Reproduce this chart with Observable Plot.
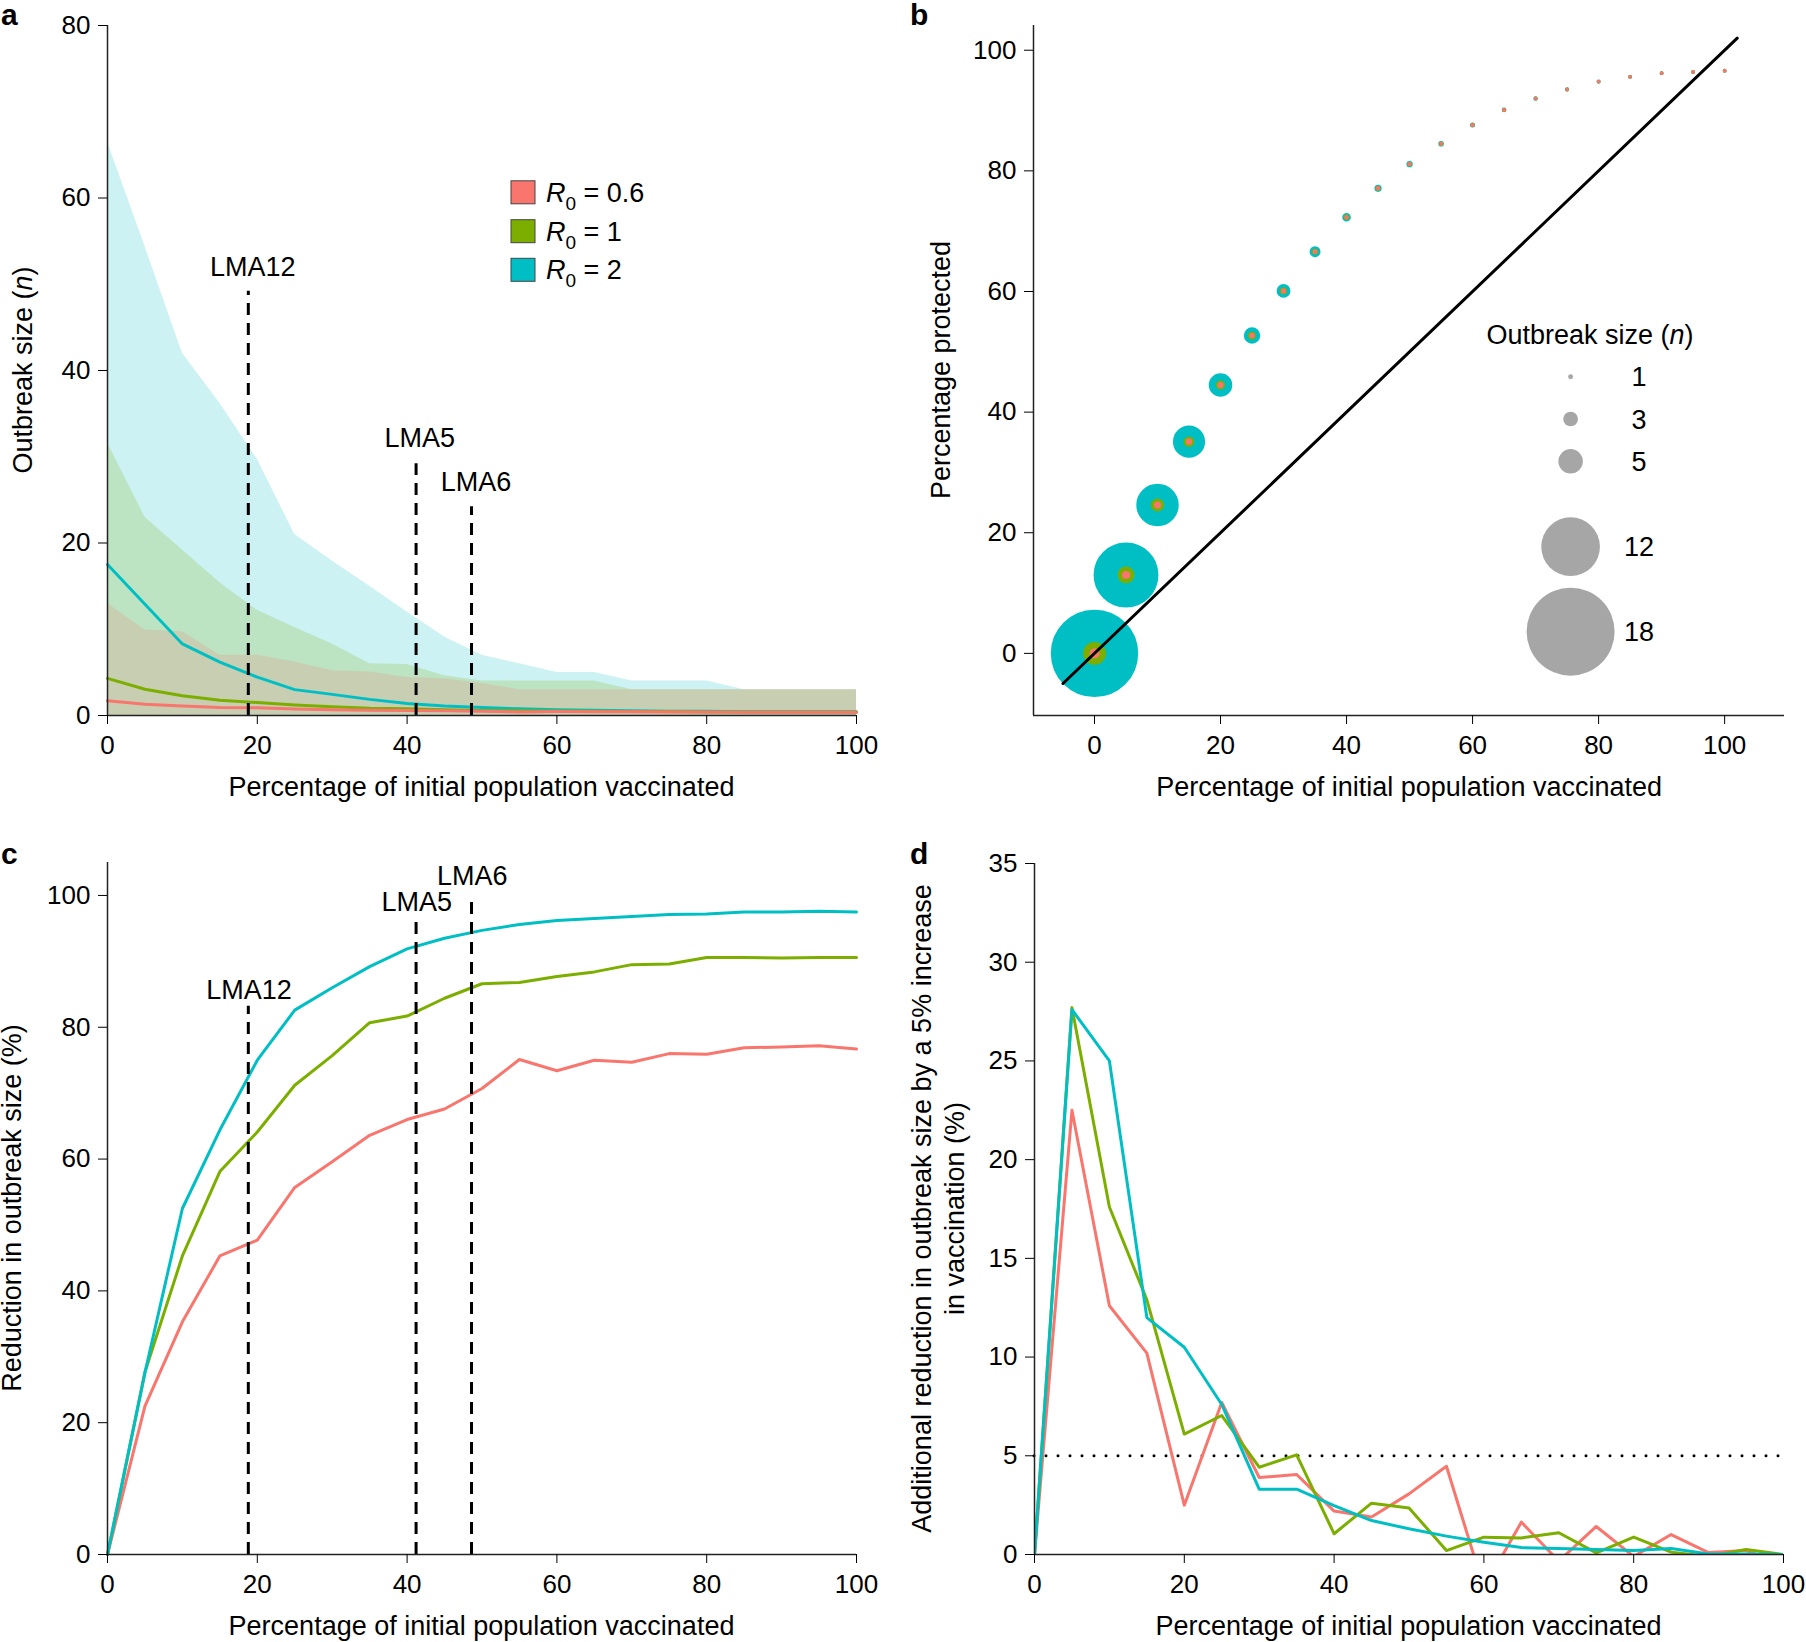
<!DOCTYPE html>
<html><head><meta charset="utf-8">
<script src="https://cdn.jsdelivr.net/npm/d3@7"></script>
<script src="https://cdn.jsdelivr.net/npm/@observablehq/plot@0.6"></script>
<style>
body{margin:0;background:#fff;}
#wrap{position:relative;width:1806px;height:1642px;background:#fff;}
.panel{position:absolute;}
</style></head><body><div id="wrap"></div>
<script>
// ---------- data ----------
const vacc = [0,5,10,15,20,25,30,35,40,45,50,55,60,65,70,75,80,85,90,95,100];
const seriesNames = ["R0 = 0.6","R0 = 1","R0 = 2"];
const seriesLabels = ["0.6","1","2"];
const colors = ["#F8766D","#7CAE00","#00BFC4"];

// panel a: mean outbreak size and upper band
const meanR06 = [1.7,1.3,1.1,0.93,0.89,0.75,0.68,0.62,0.58,0.55,0.5,0.42,0.45,0.43,0.43,0.41,0.41,0.39,0.39,0.39,0.39];
const meanR1  = [4.3,3.05,2.3,1.78,1.5,1.22,1.02,0.83,0.78,0.67,0.58,0.56,0.53,0.5,0.45,0.45,0.41,0.4,0.41,0.4,0.4];
const meanR2  = [17.5,12.9,8.3,6.2,4.45,3.0,2.45,1.87,1.4,1.1,0.92,0.78,0.66,0.6,0.55,0.5,0.48,0.44,0.44,0.43,0.43];
const upperR06 = [13,9.9,9.7,7,7,6.2,5.2,5.05,4.4,4.25,3.7,3,3,3,3,3,3,3,3,3,3];
const upperR1  = [31.6,23,19.2,15.4,12.2,10.2,8.3,6,5.9,4.6,4,4,4,4,3,3,3,3,3,3,3];
const upperR2  = [66.5,54.4,42,36.2,29.7,21,17.9,15,12,9.1,7,6,5,5,4,4,4,3,3,3,3];

// panel b: percentage protected
const protectedPct = [0,13,24.6,35.1,44.5,52.7,60.1,66.6,72.3,77.1,81.1,84.5,87.6,90.1,92.0,93.5,94.8,95.6,96.2,96.4,96.6];
const diagX = [-5,102];
const diagY = [-5,102];
const sizeLegend = [1,3,5,12,18];

// panel c: reduction in outbreak size (%)
const redR06 = [0,22.5,35.3,45.3,47.7,55.7,59.6,63.6,66.0,67.6,70.7,75.1,73.4,75.0,74.7,76.0,75.9,76.9,77.0,77.2,76.7];
const redR1  = [0,27.7,45.3,58.1,64.1,71.2,75.7,80.7,81.7,84.4,86.6,86.8,87.7,88.4,89.5,89.6,90.6,90.6,90.5,90.6,90.6];
const redR2  = [0,27.6,52.5,64.4,75.0,82.6,86.0,89.2,91.9,93.5,94.7,95.6,96.2,96.5,96.8,97.1,97.2,97.5,97.5,97.6,97.5];

// panel d: additional reduction per 5% step
const addR06 = [0,22.5,12.6,10.2,2.5,7.7,3.9,4.05,2.2,1.9,3.07,4.47,-1.7,1.64,-0.34,1.42,-0.1,1.01,0.1,0.2,-0.5];
const addR1  = [0,27.7,17.6,12.9,6.1,7.04,4.42,5.05,1.05,2.6,2.36,0.2,0.88,0.84,1.1,0.08,0.88,0.12,-0.1,0.25,0];
const addR2  = [0,27.6,25.0,12.0,10.5,7.6,3.31,3.31,2.48,1.72,1.3,0.93,0.62,0.35,0.3,0.25,0.2,0.3,0.03,0.03,0];
const threshold = [5];

// LMA markers
const lmaNames = ["LMA12","LMA5","LMA6"];
const lmaX = [18.8,41.2,48.6];
const lmaTopA = [49.2,29.2,24.2];
const lmaLabelXA = [19.4,41.7,49.2];
const lmaLabelYA = [52.0,32.1,27.0];
const lmaTopC = [83.2,97.1,100.1];
const lmaLabelXC = [18.9,41.3,48.7];
const lmaLabelYC = [85.6,98.9,102.9];

// ticks
const xTicks = [0,20,40,60,80,100];
const yTicksA = [0,20,40,60,80];
const yTicksB = [0,20,40,60,80,100];
const yTicksC = [0,20,40,60,80,100];
const yTicksD = [0,5,10,15,20,25,30,35];

// ---------- helpers ----------
const FONT = "'Liberation Sans', Arial, Helvetica, sans-serif";
const longOf = (arrs, order) => order.flatMap(i => arrs[i].map((v, j) => ({x: vacc[j], v, s: seriesNames[i]})));
const lma = (tops, lxs, lys) => lmaNames.map((name, i) => ({name, x: lmaX[i], top: tops[i], lx: lxs[i], ly: lys[i]}));
const colorScale = {domain: seriesNames, range: colors};
const style = {fontFamily: FONT, fontSize: "26px", background: "transparent", overflow: "visible", color: "black"};
const axX = t => Plot.axisX(t, {tickSize: 9, tickPadding: 11, fontSize: 26, label: null, color: "black"});
const axY = t => Plot.axisY(t, {tickSize: 9, tickPadding: 8, fontSize: 26, label: null, color: "black"});
const axisLineStyle = {stroke: "#222", strokeWidth: 1.5};

function rich(svg, x, y, parts, o = {}) {
  const t = d3.select(svg).append("text")
    .attr("transform", `translate(${x},${y})` + (o.rotate ? ` rotate(${o.rotate})` : ""))
    .attr("text-anchor", o.anchor || "middle")
    .attr("font-size", o.size || 27)
    .attr("font-weight", o.weight || "normal")
    .attr("font-family", FONT)
    .attr("fill", "black")
    .style("white-space", "pre");
  if (o.dy) t.attr("dy", o.dy);
  for (const p of parts) {
    const s = t.append("tspan").text(p.t);
    if (p.i) s.attr("font-style", "italic");
    if (p.size) s.attr("font-size", p.size);
    if (p.dy) s.attr("dy", p.dy);
  }
  return t;
}
function place(el, left, top) {
  const d = document.createElement("div");
  d.className = "panel"; d.style.left = left + "px"; d.style.top = top + "px";
  d.appendChild(el); document.getElementById("wrap").appendChild(d);
}
const XTITLE = [{t: "Percentage of initial population vaccinated"}];

// ---------- panel a ----------
const bandData = longOf([upperR06, upperR1, upperR2], [2,1,0]);
const meanData = longOf([meanR06, meanR1, meanR2], [2,1,0]);
const pa = Plot.plot({
  width: 903, height: 821, marginLeft: 107, marginRight: 47, marginTop: 25, marginBottom: 106,
  x: {domain: [0,100]}, y: {domain: [0,80]}, color: colorScale, style,
  marks: [
    Plot.area(bandData, {x1: "x", y1: 0, y2: "v", z: "s", fill: "s", fillOpacity: 0.2}),
    Plot.line(meanData, {x: "x", y: "v", z: "s", stroke: "s", strokeWidth: 3}),
    Plot.ruleX(lma(lmaTopA, lmaLabelXA, lmaLabelYA), {x: "x", y1: 0, y2: "top", stroke: "black", strokeWidth: 3, strokeDasharray: "12,8"}),
    Plot.text(lma(lmaTopA, lmaLabelXA, lmaLabelYA), {x: "lx", y: "ly", text: "name", fontSize: 27, fill: "black"}),
    Plot.ruleX([0], axisLineStyle),
    Plot.ruleY([0], axisLineStyle),
    axX(xTicks), axY(yTicksA)
  ]
});
{
  const xs = pa.scale("x"), ys = pa.scale("y");
  rich(pa, xs.apply(50), ys.apply(0) + 81, XTITLE);
  rich(pa, 32, (ys.apply(0) + ys.apply(80)) / 2, [{t: "Outbreak size ("}, {t: "n", i: true}, {t: ")"}], {rotate: -90});
  rich(pa, 1, 25, [{t: "a"}], {anchor: "start", weight: "bold", size: 30});
  const rowsY = [192.3, 231.2, 269.8];
  const g = d3.select(pa).append("g");
  seriesNames.forEach((s, i) => {
    g.append("rect").attr("x", 511).attr("y", rowsY[i] - 11.5).attr("width", 24).attr("height", 23)
      .attr("fill", colors[i]).attr("stroke", "#444").attr("stroke-width", 1);
    rich(pa, 546, rowsY[i] + 9.5, [{t: "R", i: true}, {t: "0", size: 19, dy: 8}, {t: " = " + seriesLabels[i], dy: -8}], {anchor: "start"});
  });
}
place(pa, 0, 0);

// ---------- panel b ----------
const bXDomain = [-9.68, 109.5], bYDomain = [-10.3, 104.1];
const dotData = [2,1,0].flatMap(i => vacc.map((x, j) => ({x, y: protectedPct[j], n: [meanR06, meanR1, meanR2][i][j], s: seriesNames[i]})));
const diagData = diagX.map((x, i) => ({x, y: diagY[i]}));
const pb = Plot.plot({
  width: 903, height: 821, marginLeft: 130, marginRight: 22, marginTop: 25, marginBottom: 106,
  x: {domain: bXDomain}, y: {domain: bYDomain}, color: colorScale,
  r: {type: "linear", domain: [0, 18], range: [0, 44]}, style,
  marks: [
    Plot.dot(dotData, {x: "x", y: "y", r: "n", fill: "s", stroke: "s", strokeWidth: 1.8, sort: null}),
    Plot.line(diagData, {x: "x", y: "y", stroke: "black", strokeWidth: 3}),
    Plot.ruleX([bXDomain[0]], axisLineStyle),
    Plot.ruleY([bYDomain[0]], axisLineStyle),
    axX(xTicks), axY(yTicksB)
  ]
});
{
  const xs = pb.scale("x"), ys = pb.scale("y"), rs = pb.scale("r");
  rich(pb, xs.apply(50), ys.apply(bYDomain[0]) + 81, XTITLE);
  rich(pb, 47, (ys.apply(bYDomain[0]) + ys.apply(bYDomain[1])) / 2, [{t: "Percentage protected"}], {rotate: -90});
  rich(pb, 7, 25, [{t: "b"}], {anchor: "start", weight: "bold", size: 30});
  rich(pb, 687, 344, [{t: "Outbreak size ("}, {t: "n", i: true}, {t: ")"}]);
  const legY = [376.7, 419, 461.3, 546.7, 631.7];
  const g = d3.select(pb).append("g");
  sizeLegend.forEach((v, i) => {
    g.append("circle").attr("cx", 667.6).attr("cy", legY[i]).attr("r", rs.apply(v)).attr("fill", "#A6A6A6");
    rich(pb, 736, legY[i], [{t: String(v)}], {dy: "0.36em"});
  });
}
place(pb, 903, 0);

// ---------- panel c ----------
const redData = longOf([redR06, redR1, redR2], [0,1,2]);
const pc = Plot.plot({
  width: 903, height: 821, marginLeft: 107, marginRight: 47, marginTop: 41, marginBottom: 88,
  x: {domain: [0,100]}, y: {domain: [0,105]}, color: colorScale, style,
  marks: [
    Plot.line(redData, {x: "x", y: "v", z: "s", stroke: "s", strokeWidth: 3}),
    Plot.ruleX(lma(lmaTopC, lmaLabelXC, lmaLabelYC), {x: "x", y1: 0, y2: "top", stroke: "black", strokeWidth: 3, strokeDasharray: "12,8"}),
    Plot.text(lma(lmaTopC, lmaLabelXC, lmaLabelYC), {x: "lx", y: "ly", text: "name", fontSize: 27, fill: "black"}),
    Plot.ruleX([0], axisLineStyle),
    Plot.ruleY([0], axisLineStyle),
    axX(xTicks), axY(yTicksC)
  ]
});
{
  const xs = pc.scale("x"), ys = pc.scale("y");
  rich(pc, xs.apply(50), ys.apply(0) + 81, XTITLE);
  rich(pc, 21, (ys.apply(0) + ys.apply(105)) / 2, [{t: "Reduction in outbreak size (%)"}], {rotate: -90});
  rich(pc, 1, 43, [{t: "c"}], {anchor: "start", weight: "bold", size: 30});
}
place(pc, 0, 821);

// ---------- panel d ----------
const addData = longOf([addR06, addR1, addR2], [0,1,2]);
const pd = Plot.plot({
  width: 903, height: 821, marginLeft: 131, marginRight: 23, marginTop: 42, marginBottom: 88,
  x: {domain: [0,100]}, y: {domain: [0,35]}, color: colorScale, style,
  marks: [
    Plot.ruleY(threshold, {x1: 0, x2: 100, stroke: "black", strokeWidth: 3, strokeDasharray: "0,12", strokeLinecap: "round"}),
    Plot.line(addData, {x: "x", y: "v", z: "s", stroke: "s", strokeWidth: 3, clip: true}),
    Plot.ruleX([0], axisLineStyle),
    Plot.ruleY([0], axisLineStyle),
    axX(xTicks), axY(yTicksD)
  ]
});
{
  const xs = pd.scale("x"), ys = pd.scale("y");
  const my = (ys.apply(0) + ys.apply(35)) / 2;
  rich(pd, xs.apply(50), ys.apply(0) + 81, XTITLE);
  rich(pd, 28, my, [{t: "Additional reduction in outbreak size by a 5% increase"}], {rotate: -90});
  rich(pd, 60.5, my, [{t: "in vaccination (%)"}], {rotate: -90});
  rich(pd, 7, 43, [{t: "d"}], {anchor: "start", weight: "bold", size: 30});
}
place(pd, 903, 821);
</script>
</body></html>
